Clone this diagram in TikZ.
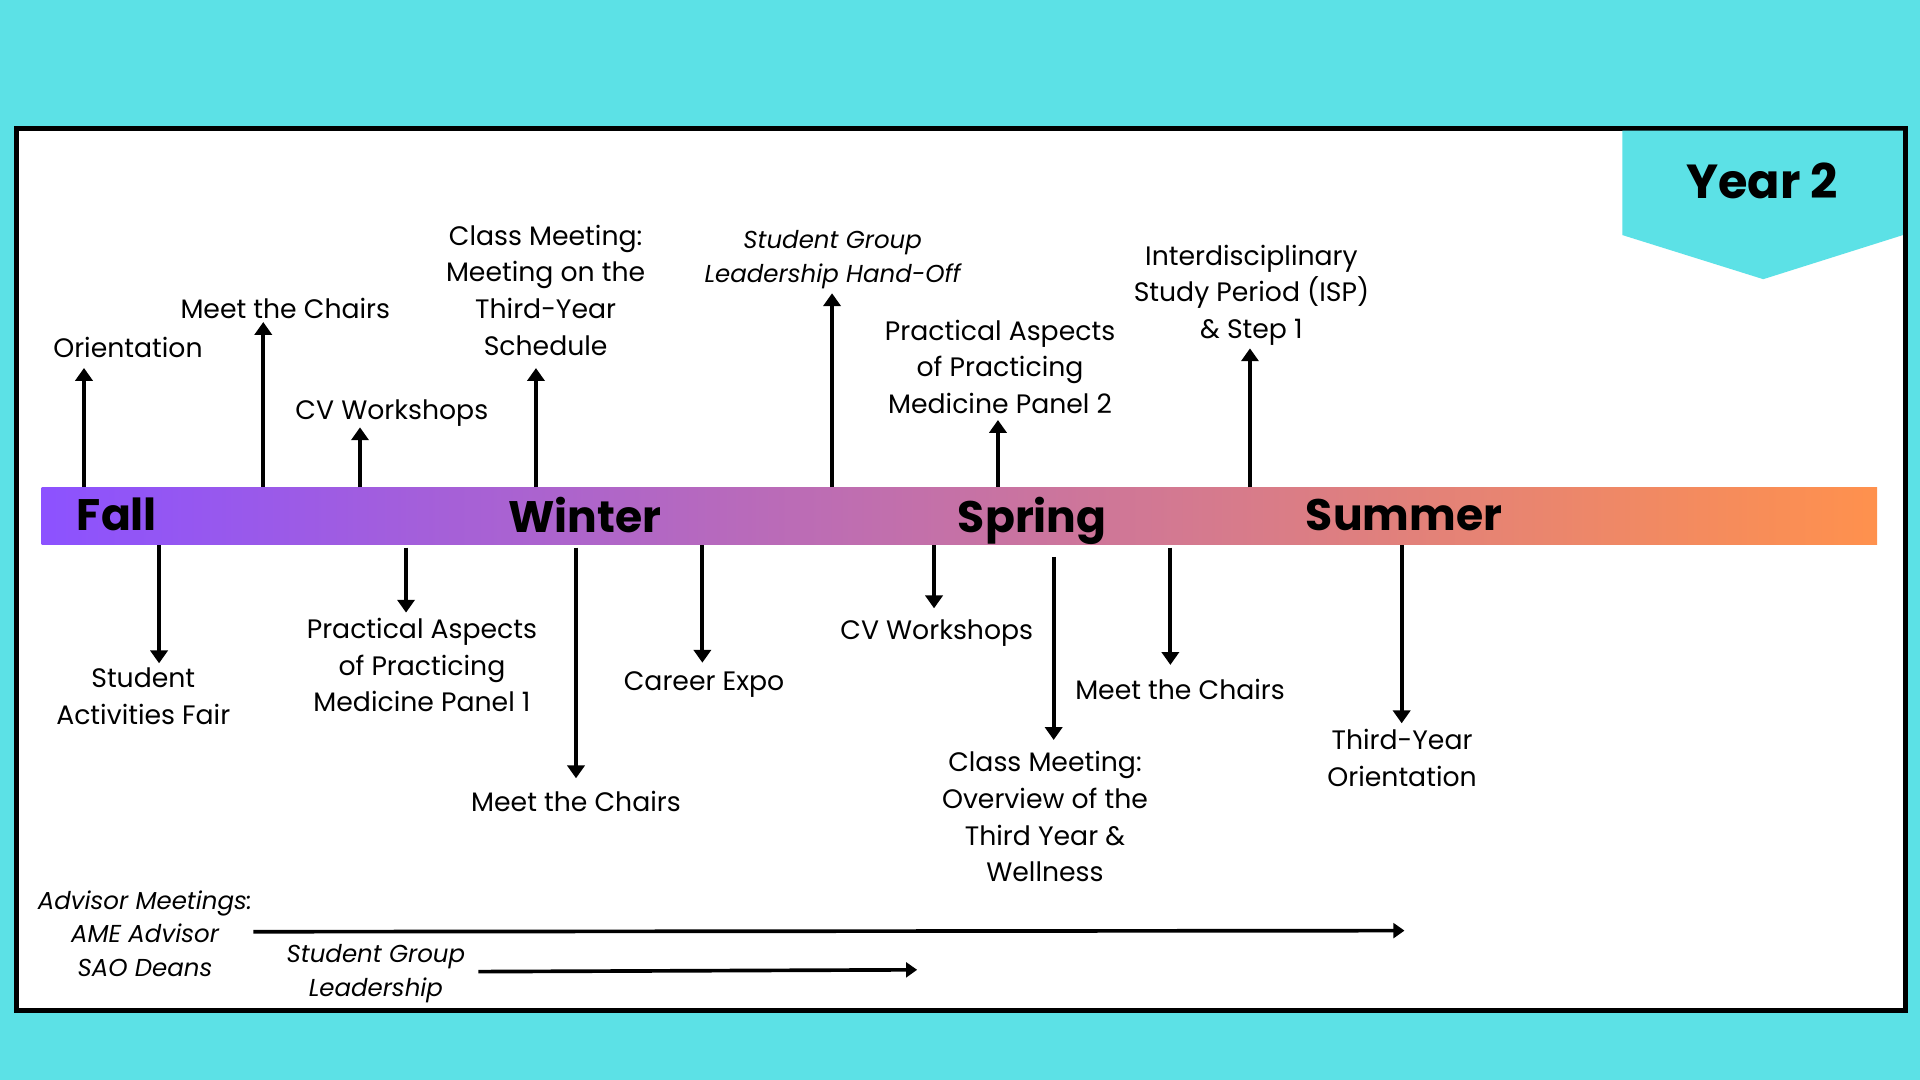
\documentclass[tikz,border=0pt]{standalone}
\usepackage{fontspec}
\setmainfont{Poppins}
\usetikzlibrary{positioning,arrows.meta,shapes.geometric}
\definecolor{sky}{HTML}{5CE1E6}
\definecolor{violet}{HTML}{8C52FF}
\definecolor{peach}{HTML}{FF914D}
\tikzset{%
event/.style={align=center,anchor=north,inner sep=0pt,font=\fontsize{21.8}{30}\selectfont},
eventit/.style={event,font=\fontsize{20}{27.5}\selectfont\itshape},
season/.style={anchor=base,inner sep=0pt,font=\fontsize{36}{40}\selectfont\bfseries},
bar/.style={inner sep=0pt,minimum width=1499pt,minimum height=47pt,left color=violet,right color=peach},
tick/.style={line width=3.3pt,-{Triangle[width=14pt,length=10.5pt]}},
span/.style={line width=3pt,-{Triangle[width=12pt,length=9pt]}}
}
\begin{document}
\begin{tikzpicture}[x=1pt,y=-1pt]

    \useasboundingbox (0,0) rectangle (1568,882);
    \fill[sky] (0,0) rectangle (1568,882);
    \draw[line width=4pt,fill=white] (13.5,104.7) rectangle (1556,825.3);

    % year tab
    \fill[sky] (1325,106.7) -- (1554,106.7) -- (1554,192) -- (1440,228) -- (1325,192) -- cycle;
    \node[season,font=\fontsize{39}{42}\selectfont\bfseries] (year) at (1439,162.5) {Year 2};

    % timeline
    \node[bar] (bar) at (783.5,421.5) {};
    \node[season] (fall)   at (95.5,433)   {Fall};
    \node[season] (winter) at (477.5,434.8) {Winter};
    \node[season] (spring) at (843,434.5)  {Spring};
    \node[season] (summer) at (1146.6,433.3) {Summer};

    % above the bar
    \node[event] (ori)  at (104.5,275) {Orientation};
    \node[event] (mc1)  at (233,243)   {Meet the Chairs};
    \node[event] (cv1)  at (320,326.5) {CV Workshops};
    \node[event] (cm1)  at (445.6,183.5) {Class Meeting:\\Meeting on the\\Third-Year\\Schedule};
    \node[eventit] (hand) at (680,188) {Student Group\\Leadership Hand-Off};
    \node[event] (pam2) at (816.7,261) {Practical Aspects\\of Practicing\\Medicine Panel 2};
    \node[event] (isp)  at (1022,199.8) {Interdisciplinary\\Study Period (ISP)\\\& Step 1};

    \coordinate (oriT)  at (68.6,300.5);
    \coordinate (mc1T)  at (215,263);
    \coordinate (cv1T)  at (294,349);
    \coordinate (cm1T)  at (437.7,300.6);
    \coordinate (handT) at (679.5,239.5);
    \coordinate (pam2T) at (815,343);
    \coordinate (ispT)  at (1020.8,284.5);

    \draw[tick] (bar.north -| oriT)  -- (oriT);
    \draw[tick] (bar.north -| mc1T)  -- (mc1T);
    \draw[tick] (bar.north -| cv1T)  -- (cv1T);
    \draw[tick] (bar.north -| cm1T)  -- (cm1T);
    \draw[tick] (bar.north -| handT) -- (handT);
    \draw[tick] (bar.north -| pam2T) -- (pam2T);
    \draw[tick] (bar.north -| ispT)  -- (ispT);

    % below the bar
    \node[event] (saf)  at (117,545.5)   {Student\\Activities Fair};
    \node[event] (pam1) at (344.6,504.5) {Practical Aspects\\of Practicing\\Medicine Panel 1};
    \node[event] (mc2)  at (470.4,646.2) {Meet the Chairs};
    \node[event] (expo) at (575,548.2)   {Career Expo};
    \node[event] (cv2)  at (765,506)     {CV Workshops};
    \node[event] (cm2)  at (853.4,613.5) {Class Meeting:\\Overview of the\\Third Year \&\\Wellness};
    \node[event] (mc3)  at (963.7,554.5) {Meet the Chairs};
    \node[event] (tyo)  at (1145,595.5)  {Third-Year\\Orientation};

    \coordinate (safT)  at (129.9,541.7);
    \coordinate (pam1T) at (331.6,500.3);
    \coordinate (mc2T)  at (470.4,635.6);
    \coordinate (expoT) at (573.6,541.2);
    \coordinate (cv2T)  at (762.8,496.8);
    \coordinate (cm2T)  at (860.5,604.3);
    \coordinate (mc3T)  at (955.8,543);
    \coordinate (tyoT)  at (1144.7,590.7);

    \draw[tick] (bar.south -| safT)  -- (safT);
    \draw[tick,shorten <=2pt] (bar.south -| pam1T) -- (pam1T);
    \draw[tick,shorten <=2pt] (bar.south -| mc2T)  -- (mc2T);
    \draw[tick] (bar.south -| expoT) -- (expoT);
    \draw[tick] (bar.south -| cv2T)  -- (cv2T);
    \draw[tick,shorten <=9.6pt] (bar.south -| cm2T) -- (cm2T);
    \draw[tick,shorten <=2pt] (bar.south -| mc3T)  -- (mc3T);
    \draw[tick] (bar.south -| tyoT)  -- (tyoT);

    % running items
    \node[eventit] (adv) at (118.4,727) {Advisor Meetings:\\AME Advisor\\SAO Deans};
    \node[eventit] (sgl) at (307,771)   {Student Group\\Leadership};

    \coordinate (advA) at (206.9,760.9);
    \coordinate (advB) at (1147,760);
    \coordinate (sglA) at (390.6,793.5);
    \coordinate (sglB) at (749,792);
    \draw[span] (advA) -- (advB);
    \draw[span] (sglA) -- (sglB);

\end{tikzpicture}
\end{document}
